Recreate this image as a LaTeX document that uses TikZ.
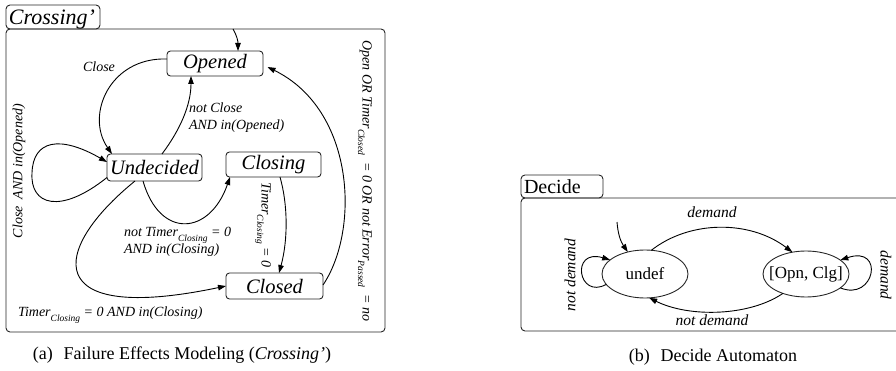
\documentclass[tikz,border=0pt]{standalone}
\usepackage{fontspec}
\setmainfont{Liberation Serif}
\usetikzlibrary{arrows.meta,shapes.geometric}

% lowered small subscript used in the guards
\newcommand\sbs[1]{\raisebox{-0.7ex}{\fontsize{9.5}{10}\selectfont #1}}

\begin{document}
\begin{tikzpicture}[x=1pt,y=-1pt,
  every node/.style={inner sep=0pt, outer sep=0pt},
  frame/.style={draw=black!85, line width=0.9pt, rounded corners=4pt},
  state/.style={draw=black!85, line width=0.9pt, rounded corners=3.5pt,
    font=\fontsize{20.5}{24}\selectfont\itshape, minimum height=25pt},
  oval/.style={draw=black!85, ellipse, line width=0.9pt, inner sep=-8pt,
    font=\fontsize{17}{20}\selectfont},
  trans/.style={draw, line width=0.9pt, -{Triangle[length=8pt,width=5.5pt]}},
  lbl/.style={font=\fontsize{14}{17}\selectfont\itshape, align=left},
  lblb/.style={font=\fontsize{15.5}{18}\selectfont\itshape},
  tabtext/.style={font=\fontsize{20}{24}\selectfont},
  caption/.style={font=\fontsize{18}{22}\selectfont},
]
\useasboundingbox (0,0) rectangle (896,371);

% ---------- Crossing' automaton ----------
\draw[frame] (6,5) rectangle (100,29);
\node[tabtext, anchor=base west] (crossingtab) at (9,25) {\fontsize{22}{24}\selectfont\itshape Crossing'};
\draw[frame] (6,29) rectangle (385,332);

\node[state, minimum width=96pt] (opened) at (215,63.5) {Opened};
\node[state, minimum width=95pt, minimum height=27pt] (undecided) at (154.5,167.5) {Undecided};
\node[state, minimum width=95pt] (closing) at (273.5,164.5) {Closing};
\node[state, minimum width=97pt, minimum height=26pt] (closed) at (274.5,286) {Closed};

\coordinate (initA) at (233,29);
\draw[trans] (initA) .. controls (237,36) and (238,41) .. ([xshift=23pt]opened.north);

\draw[trans] ([yshift=4.5pt]opened.west) .. controls (110,57) and (85,115) ..
  ([xshift=5pt]undecided.north west);
\draw[trans] ([xshift=7.5pt]undecided.north) .. controls (180,130) and (191,105) ..
  ([xshift=-24pt]opened.south);
\draw[trans] ([yshift=-10pt]undecided.west) .. controls (60,215) and (30,205) .. (32,173)
  .. controls (33,140) and (60,135) .. ([yshift=5.5pt]undecided.west);
\draw[trans] ([xshift=-11.5pt]undecided.south) .. controls (160,240) and (210,235) ..
  ([xshift=4pt]closing.south west);
\draw[trans] ([xshift=-19.5pt]undecided.south) .. controls (50,250) and (40,325) ..
  (closed.west);
\draw[trans] ([xshift=6.5pt]closing.south) .. controls (288,205) and (288,240) ..
  ([xshift=4.5pt]closed.north);
\draw[trans] ([yshift=1pt]closed.east) .. controls (360,230) and (355,110) ..
  ([xshift=4.5pt,yshift=-3.5pt]opened.east);

\node[lbl] (lclose) at (99,67) {Close};
\node[lbl, anchor=west] (lnotclose) at (189,118) {not Close\\AND in(Opened)};
\node[lbl, rotate=90] (lloop) at (19,171) {Close\ \ AND in(Opened)};
\node[lbl, anchor=west] (lnottimer) at (124,242) {not Timer\sbs{Closing} = 0\\AND in(Closing)};
\node[lbl, anchor=west] (ltimer) at (18,315) {Timer\sbs{Closing} = 0 AND in(Closing)};
\node[lbl, rotate=-90] (ltimerc) at (263,225) {Timer\sbs{Closing} = 0};
\node[lbl, rotate=-90] (lopen) at (365,181)
  {Open OR Timer\sbs{Closed}\ \ = 0 OR not Error\sbs{Passed}\ \ = no};

% ---------- Decide automaton ----------
\draw[frame] (521,175) rectangle (603,198);
\node[tabtext, anchor=base west] (decidetab) at (524,194) {Decide};
\draw[frame] (521,198) rectangle (915,331);

\node[oval, minimum width=86pt, minimum height=48pt] (undef) at (645,274) {undef};
\node[oval, minimum width=86pt, minimum height=46pt] (opnclg) at (806,274) {[Opn, Clg]};

\coordinate (initB) at (617,222);
\draw[trans] (initB) .. controls (618,235) and (621,242) .. (undef.128);
\draw[trans] (undef.75) .. controls (690,220) and (750,220) .. (opnclg.122);
\draw[trans] (opnclg.-140) .. controls (750,316) and (690,318) .. (undef.-80);
\draw[trans] (undef.-165) .. controls (578,300) and (570,248) .. (undef.158);
\draw[trans] (opnclg.-22) .. controls (875,302) and (885,245) .. (opnclg.22);

\node[lblb] (ldemand) at (712,212) {demand};
\node[lblb] (lnotdemand) at (712,320) {not demand};
\node[lblb, rotate=90] (lnotdemandloop) at (570,275) {not demand};
\node[lblb, rotate=-90] (ldemandloop) at (886,275) {demand};

% ---------- captions ----------
\node[caption] (capa) at (182,355) {(a)\hspace{0.6em}Failure Effects Modeling (\textit{Crossing'})};
\node[caption] (capb) at (713,357) {(b)\hspace{0.6em}Decide Automaton};
\end{tikzpicture}
\end{document}
